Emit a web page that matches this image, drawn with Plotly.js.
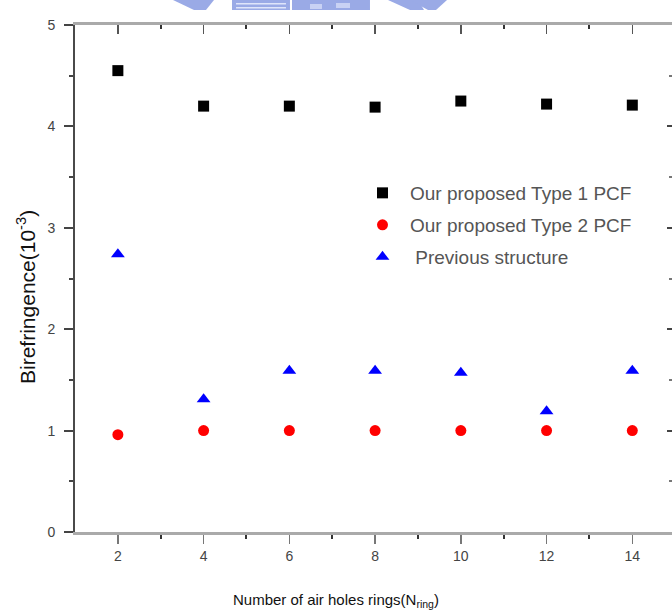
<!DOCTYPE html>
<html>
<head>
<meta charset="utf-8">
<script src="https://cdn.plot.ly/plotly-3.0.1.min.js"></script>
<style>html,body{margin:0;padding:0;background:#fff;}#chart{width:672px;height:615px;}</style>
</head>
<body>
<div id="chart"></div>
<script>
// ---- data ----
const rings = [2, 4, 6, 8, 10, 12, 14];
const type1PCF = [4.55, 4.20, 4.20, 4.19, 4.25, 4.22, 4.21];
const type2PCF = [0.96, 1.00, 1.00, 1.00, 1.00, 1.00, 1.00];
const previousStructure = [2.74, 1.31, 1.59, 1.59, 1.57, 1.19, 1.59];
const seriesNames = ["Our proposed Type 1 PCF", "Our proposed Type 2 PCF", " Previous structure"];
const xTickVals = [2, 4, 6, 8, 10, 12, 14];
const yTickVals = [0, 1, 2, 3, 4, 5];

// ---- layout helpers (pixel -> paper) ----
const W = 672, H = 615;
const L = 75, R = 672, T = 25, B = 532;
const px = v => (v - L) / (R - L);
const py = v => (B - v) / (B - T);

function poly(points, color) {
  const d = points.map((p, i) => (i ? 'L' : 'M') + px(p[0]).toFixed(4) + ',' + py(p[1]).toFixed(4)).join(' ') + ' Z';
  return {type: 'path', xref: 'paper', yref: 'paper', path: d, fillcolor: color, line: {width: 0}, layer: 'above'};
}
const logoBlue = '#9aaae6';
const logoShapes = [
  poly([[173,0],[214,0],[206,10],[194,10]], logoBlue),
  poly([[232,0],[290,0],[290,10],[232,10]], logoBlue),
  poly([[292,0],[370,0],[370,10],[292,10]], logoBlue),
  poly([[388,0],[418,0],[424,10],[410,10]], logoBlue),
  poly([[410,0],[447,0],[436,10],[428,10]], logoBlue),
  poly([[236,3],[286,3],[286,4.5],[236,4.5]], '#dfe5fa'),
  poly([[236,7],[286,7],[286,8.5],[236,8.5]], '#dfe5fa'),
  poly([[310,4],[322,4],[322,9],[310,9]], '#c9d2f4'),
  poly([[336,3],[350,3],[350,8],[336,8]], '#c9d2f4')
];

const tickFont = {family: 'Liberation Sans, Arial, sans-serif', size: 14, color: '#444'};
const legendFont = {family: 'Liberation Sans, Arial, sans-serif', size: 19, color: '#555'};

const traces = [
  {x: rings, y: type1PCF, name: seriesNames[0], type: 'scatter', mode: 'markers',
   marker: {symbol: 'square', size: 11, color: '#000000'}, legend: 'legend'},
  {x: rings, y: type2PCF, name: seriesNames[1], type: 'scatter', mode: 'markers',
   marker: {symbol: 'circle', size: 11, color: '#ff0000'}, legend: 'legend2'},
  {x: rings, y: previousStructure, name: seriesNames[2], type: 'scatter', mode: 'markers',
   marker: {symbol: 'triangle-up', size: 12, color: '#0000ff'}, legend: 'legend3'},
  {x: [], y: [], xaxis: 'x2', yaxis: 'y2', type: 'scatter', mode: 'markers', showlegend: false, hoverinfo: 'skip'}
];

const legBase = {xref: 'paper', yref: 'paper', xanchor: 'left', yanchor: 'middle',
  bgcolor: 'rgba(0,0,0,0)', font: legendFont, borderwidth: 0, itemwidth: 45};

const layout = {
  width: W, height: H,
  margin: {l: L, r: W - R, t: T, b: H - B},
  paper_bgcolor: '#ffffff', plot_bgcolor: '#ffffff',
  showlegend: true,
  xaxis: {
    range: [1, 1 + (R - L) / 42.87], tickvals: xTickVals, ticktext: xTickVals.map(String),
    ticks: 'outside', ticklen: 9, tickwidth: 1.5, tickcolor: '#777',
    minor: {tickvals: [3, 5, 7, 9, 11, 13], ticks: 'outside', ticklen: 4, tickwidth: 2, tickcolor: '#333'},
    showline: true, linecolor: '#aaaaaa', linewidth: 3,
    showgrid: false, zeroline: false, tickfont: tickFont, fixedrange: true
  },
  xaxis2: {
    overlaying: 'x', side: 'top', anchor: 'y', matches: 'x', range: [1, 1 + (R - L) / 42.87],
    tickvals: xTickVals, showticklabels: false,
    ticks: 'inside', ticklen: 9, tickwidth: 1.5, tickcolor: '#555',
    minor: {tickvals: [3, 5, 7, 9, 11, 13], ticks: 'inside', ticklen: 4, tickwidth: 2, tickcolor: '#333'},
    showline: true, linecolor: '#aaaaaa', linewidth: 3, showgrid: false, zeroline: false
  },
  yaxis: {
    range: [0, 5], tickvals: yTickVals, ticktext: yTickVals.map(String),
    ticks: 'outside', ticklen: 9, tickwidth: 2, tickcolor: '#444',
    minor: {tickvals: [0.5, 1.5, 2.5, 3.5, 4.5], ticks: 'outside', ticklen: 4, tickwidth: 2, tickcolor: '#444'},
    showline: true, linecolor: '#4a4a4a', linewidth: 2,
    showgrid: false, zeroline: false, tickfont: tickFont, ticklabelstandoff: 6, fixedrange: true
  },
  yaxis2: {
    overlaying: 'y', side: 'right', anchor: 'x', range: [0, 5], tickvals: yTickVals,
    showticklabels: false, ticks: 'inside', ticklen: 5, tickwidth: 2, tickcolor: '#444',
    minor: {tickvals: [0.5, 1.5, 2.5, 3.5, 4.5], ticks: 'inside', ticklen: 3, tickwidth: 2, tickcolor: '#777'},
    showline: false, showgrid: false, zeroline: false
  },
  legend: Object.assign({}, legBase, {x: px(355), y: py(193)}),
  legend2: Object.assign({}, legBase, {x: px(355), y: py(225)}),
  legend3: Object.assign({}, legBase, {x: px(355), y: py(257)}),
  annotations: [
    {text: 'Birefringence(10<sup>-3</sup>)', xref: 'paper', yref: 'paper', x: px(26), y: py(297),
     textangle: -90, showarrow: false, xanchor: 'center', yanchor: 'middle',
     font: {family: 'Liberation Sans, Arial, sans-serif', size: 21, color: '#111'}},
    {text: 'Number of air holes rings(N<sub>ring</sub>)', xref: 'paper', yref: 'paper', x: px(336), y: py(600),
     showarrow: false, xanchor: 'center', yanchor: 'middle',
     font: {family: 'Liberation Sans, Arial, sans-serif', size: 15, color: '#111'}}
  ],
  shapes: logoShapes
};

Plotly.newPlot('chart', traces, layout, {displayModeBar: false, staticPlot: true});
</script>
</body>
</html>
